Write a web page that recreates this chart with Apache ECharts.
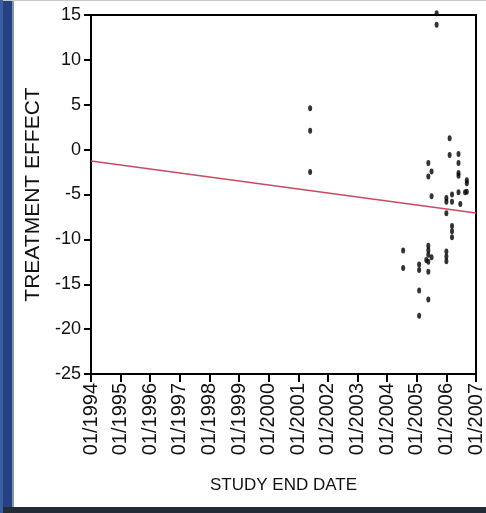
<!DOCTYPE html>
<html>
<head>
<meta charset="utf-8">
<script src="https://cdn.jsdelivr.net/npm/echarts@6/dist/echarts.min.js"></script>
<style>
html,body{margin:0;padding:0;background:#fff;}
#c{width:486px;height:513px;}
</style>
</head>
<body>
<div id="c"></div>
<script>
// Study end date (decimal years) and treatment effect for each study
var studyEndYear = [
  2001.40, 2001.40, 2001.40,
  2004.54, 2004.54,
  2005.08, 2005.08, 2005.08, 2005.08,
  2005.32,
  2005.39, 2005.39, 2005.39, 2005.39, 2005.39, 2005.39, 2005.39, 2005.39,
  2005.50, 2005.50, 2005.50,
  2005.67, 2005.67,
  2006.00, 2006.00, 2006.00, 2006.00, 2006.00, 2006.00,
  2006.11, 2006.11,
  2006.19, 2006.19, 2006.19, 2006.19, 2006.19,
  2006.41, 2006.41, 2006.41, 2006.41, 2006.41,
  2006.47,
  2006.63,
  2006.69, 2006.69, 2006.69
];
var treatmentEffect = [
  4.6, 2.1, -2.5,
  -11.25, -13.2,
  -12.8, -13.4, -15.7, -18.5,
  -12.3,
  -1.5, -3.0, -10.7, -11.2, -11.7, -12.5, -13.6, -16.7,
  -2.45, -5.2, -12.0,
  15.2, 13.9,
  -5.4, -5.8, -7.1, -11.35, -11.9, -12.45,
  1.27, -0.6,
  -5.0, -5.8, -8.5, -9.1, -9.75,
  -0.5, -1.5, -2.6, -2.9, -4.75,
  -6.05,
  -4.75,
  -3.4, -3.75, -4.7
];
// Fitted regression line end points
var trendYears = [1994, 2007];
var trendEffect = [-1.26, -7.05];
// Axis ranges / ticks
var xTickYears = [1994, 2007, 1];
var yTicks = [-25, 15, 5];
var xAxisTitle = 'STUDY END DATE';
var yAxisTitle = 'TREATMENT EFFECT';

var points = studyEndYear.map(function (x, i) { return [x, treatmentEffect[i]]; });
var trend = trendYears.map(function (x, i) { return [x, trendEffect[i]]; });

var font = "'Liberation Sans',Arial,sans-serif";
var chart = echarts.init(document.getElementById('c'), null, {renderer: 'canvas'});
chart.setOption({
  animation: false,
  backgroundColor: '#ffffff',
  graphic: [
    {type: 'rect', shape: {x: 0, y: 0, width: 12, height: 513}, style: {fill: '#23427f'}, z: 100},
    {type: 'rect', shape: {x: 0, y: 0, width: 3, height: 513}, style: {fill: '#3a5ea3'}, z: 101},
    {type: 'rect', shape: {x: 12, y: 0, width: 2, height: 513}, style: {fill: '#8a96b0'}, z: 100},
    {type: 'rect', shape: {x: 0, y: 507, width: 486, height: 6}, style: {fill: '#252b36'}, z: 100},
    {type: 'rect', shape: {x: 0, y: 0, width: 486, height: 1}, style: {fill: '#c8c8c8'}, z: 100}
  ],
  grid: {
    left: 91, right: 4, top: 15, bottom: 139,
    show: true, borderColor: '#000', borderWidth: 2, backgroundColor: 'transparent'
  },
  xAxis: {
    type: 'value',
    min: xTickYears[0], max: xTickYears[1], interval: xTickYears[2],
    name: xAxisTitle, nameLocation: 'middle', nameGap: 103,
    nameTextStyle: {fontFamily: font, fontSize: 17, color: '#111'},
    axisLine: {show: true, onZero: false, lineStyle: {color: '#000', width: 2}},
    axisTick: {show: true, length: 8, lineStyle: {color: '#000', width: 2}},
    splitLine: {show: false},
    axisLabel: {
      rotate: 90, margin: 9, fontFamily: font, fontSize: 20, color: '#111',
      formatter: function (v) { return '01/' + v; }
    }
  },
  yAxis: {
    type: 'value',
    min: yTicks[0], max: yTicks[1], interval: yTicks[2],
    name: yAxisTitle, nameLocation: 'middle', nameGap: 42, nameRotate: 90,
    nameTextStyle: {fontFamily: font, fontSize: 21, color: '#111'},
    axisLine: {show: true, onZero: false, lineStyle: {color: '#000', width: 2}},
    axisTick: {show: true, length: 7, lineStyle: {color: '#000', width: 2}},
    splitLine: {show: false},
    axisLabel: {margin: 10, fontFamily: font, fontSize: 18, color: '#111'}
  },
  series: [
    {
      type: 'line', data: trend, symbol: 'none', silent: true,
      lineStyle: {color: '#c84a63', width: 1.5}, z: 2
    },
    {
      type: 'scatter', data: points, symbol: 'circle', symbolSize: [4, 6], clip: false,
      itemStyle: {color: '#000'}, z: 3
    }
  ]
});
</script>
</body>
</html>
